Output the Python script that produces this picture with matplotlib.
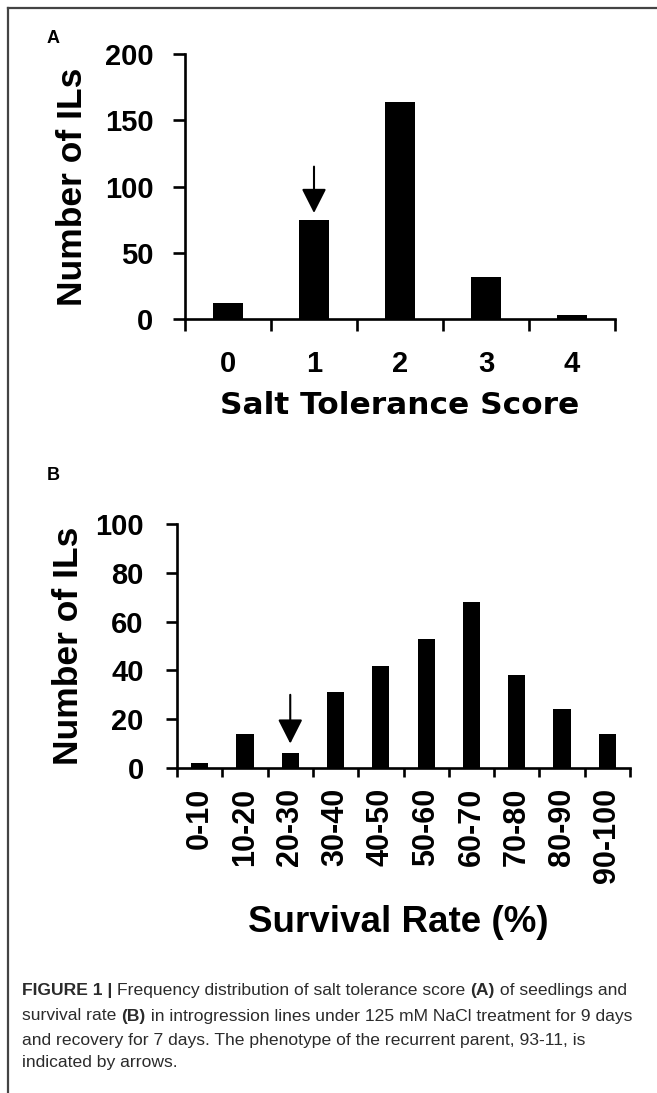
import matplotlib
matplotlib.use("Agg")
import matplotlib.pyplot as plt
from matplotlib.lines import Line2D

# ---------------- data ----------------
score_categories = ["0", "1", "2", "3", "4"]
score_counts = [12, 75, 164, 32, 3]
score_yticks = [0, 50, 100, 150, 200]
score_arrow_category = 1
score_arrow_from, score_arrow_to = 115, 80

survival_categories = ["0-10", "10-20", "20-30", "30-40", "40-50",
                       "50-60", "60-70", "70-80", "80-90", "90-100"]
survival_counts = [2, 14, 6, 31, 42, 53, 68, 38, 24, 14]
survival_yticks = [0, 20, 40, 60, 80, 100]
survival_arrow_category = 2
survival_arrow_from, survival_arrow_to = 30, 10

caption_lines = [
    [("FIGURE 1 | ", True), ("Frequency distribution of salt tolerance score ", False),
     ("(A)", True), (" of seedlings and", False)],
    [("survival rate ", False), ("(B)", True),
     (" in introgression lines under 125 mM NaCl treatment for 9 days", False)],
    [("and recovery for 7 days. The phenotype of the recurrent parent, 93-11, is", False)],
    [("indicated by arrows.", False)],
]

# ---------------- figure ----------------
W, H = 657, 1093
fig = plt.figure(figsize=(W / 100, H / 100), dpi=100)
fig.patch.set_facecolor("white")

def fx(px):
    return px / W

def fy(py):
    return 1 - py / H

# frame lines (top and left)
fig.add_artist(Line2D([fx(8), 1.0], [fy(8), fy(8)], color="#444444", lw=1.6))
fig.add_artist(Line2D([fx(8), fx(8)], [fy(8), 0.0], color="#444444", lw=1.6))

WIDE = "DejaVu Sans"
ARIAL = "Liberation Sans"

def style_axes(ax, xtick_len, ytick_len):
    for s in ["top", "right"]:
        ax.spines[s].set_visible(False)
    for s in ["left", "bottom"]:
        ax.spines[s].set_linewidth(1.9)
    ax.tick_params(axis="y", which="major", direction="out", length=ytick_len, width=1.9)
    ax.tick_params(axis="x", which="major", length=0)
    ax.tick_params(axis="x", which="minor", direction="out", length=xtick_len, width=1.9)

arrow_props = dict(arrowstyle="-|>,head_length=0.75,head_width=0.38",
                   color="black", lw=1.5, shrinkA=0, shrinkB=0, mutation_scale=20)

# ---------------- panel A ----------------
axA = fig.add_axes([fx(185), fy(319), (615 - 185) / W, (319 - 54) / H])
xa = list(range(len(score_categories)))
axA.bar(xa, score_counts, width=0.34, color="black")
axA.set_xlim(-0.5, len(score_categories) - 0.5)
axA.set_ylim(0, 200)
axA.set_yticks(score_yticks)
axA.set_xticks(xa)
axA.set_xticks([i - 0.5 for i in range(len(score_categories) + 1)], minor=True)
style_axes(axA, xtick_len=8.6, ytick_len=8.6)
axA.set_xticklabels(score_categories, family=ARIAL, fontweight="bold", fontsize=21)
axA.set_yticklabels([str(v) for v in score_yticks], family=ARIAL, fontweight="bold", fontsize=21)
axA.tick_params(axis="y", pad=14)
axA.tick_params(axis="x", which="major", pad=22.5)
axA.annotate("", xy=(score_arrow_category, score_arrow_to),
             xytext=(score_arrow_category, score_arrow_from), arrowprops=arrow_props)

fig.text(fx(47), fy(43), "A", family=ARIAL, fontweight="bold", fontsize=13,
         ha="left", va="baseline")
fig.text(fx(72), fy(187), "Number of ILs", family=ARIAL, fontweight="bold",
         fontsize=25.5, rotation=90, ha="center", va="center")
fig.text(fx(400), fy(405), "Salt Tolerance Score", family=WIDE, fontweight="bold",
         fontsize=22.5, ha="center", va="center")

# ---------------- panel B ----------------
axB = fig.add_axes([fx(177), fy(768), (630 - 177) / W, (768 - 524) / H])
xb = list(range(len(survival_categories)))
axB.bar(xb, survival_counts, width=0.38, color="black")
axB.set_xlim(-0.5, len(survival_categories) - 0.5)
axB.set_ylim(0, 100)
axB.set_yticks(survival_yticks)
axB.set_xticks(xb)
axB.set_xticks([i - 0.5 for i in range(len(survival_categories) + 1)], minor=True)
style_axes(axB, xtick_len=6.5, ytick_len=8)
axB.set_xticklabels(survival_categories, family=ARIAL, fontweight="bold", fontsize=22,
                    rotation=90, ha="center", va="top")
axB.set_yticklabels([str(v) for v in survival_yticks], family=ARIAL, fontweight="bold",
                    fontsize=21)
axB.tick_params(axis="y", pad=16)
axB.tick_params(axis="x", which="major", pad=14)
axB.annotate("", xy=(survival_arrow_category, survival_arrow_to),
             xytext=(survival_arrow_category, survival_arrow_from), arrowprops=arrow_props)

fig.text(fx(47), fy(480), "B", family=ARIAL, fontweight="bold", fontsize=13,
         ha="left", va="baseline")
fig.text(fx(68), fy(646), "Number of ILs", family=ARIAL, fontweight="bold",
         fontsize=25.5, rotation=90, ha="center", va="center")
fig.text(fx(398), fy(922), "Survival Rate (%)", family=ARIAL, fontweight="bold",
         fontsize=26.5, ha="center", va="center")

# ---------------- caption ----------------
renderer = fig.canvas.get_renderer()
cap_y = [991, 1016, 1040, 1063]
cap_size = 12.6
for yline, runs in zip(cap_y, caption_lines):
    x = 22
    for text, bold in runs:
        t = fig.text(fx(x), fy(yline), text, family=ARIAL,
                     fontweight="bold" if bold else "normal",
                     fontsize=cap_size, color="#2b2b2b", ha="left", va="center")
        x += t.get_window_extent(renderer).width

fig.savefig("out.png", dpi=100, facecolor="white")
